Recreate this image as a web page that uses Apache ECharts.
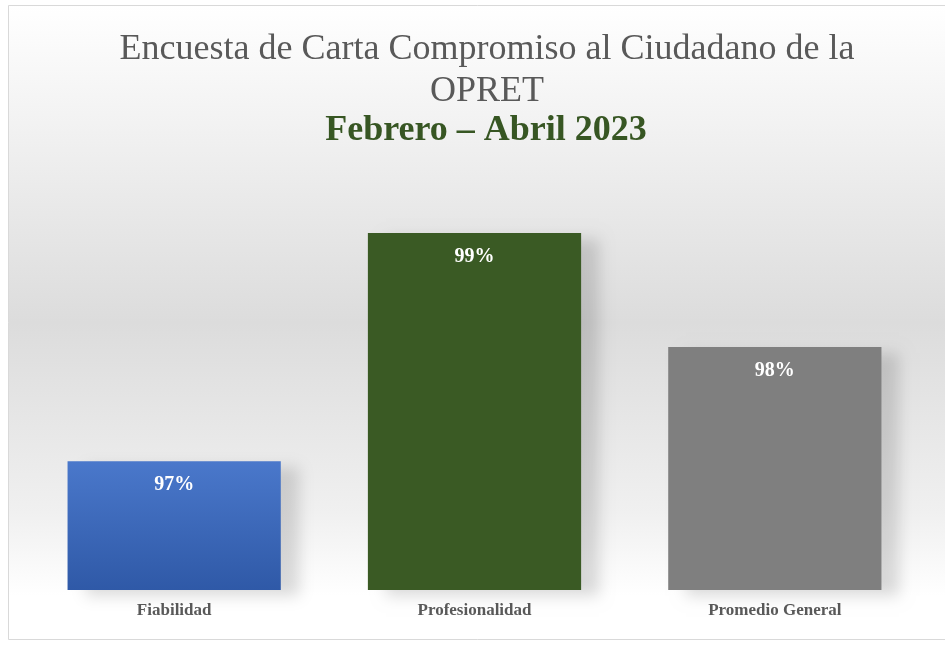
<!DOCTYPE html>
<html>
<head>
<meta charset="utf-8">
<script src="https://cdn.jsdelivr.net/npm/echarts@6/dist/echarts.min.js"></script>
<style>
  html, body { margin: 0; padding: 0; background: #fff; }
  #chart { width: 945px; height: 648px; }
</style>
</head>
<body>
<div id="chart"></div>
<script>
// datos de la encuesta
let categories = ['Fiabilidad', 'Profesionalidad', 'Promedio General'];
let values = [97, 99, 98];
let valueLabels = ['97%', '99%', '98%'];
let barColors = [
    new echarts.graphic.LinearGradient(0, 0, 0, 1, [
        { offset: 0, color: '#4a78cb' },
        { offset: 1, color: '#2f59a7' }
    ]),
    '#3a5a24',
    '#7f7f7f'
];

let chart = echarts.init(document.getElementById('chart'));
let serif = '"Liberation Serif", "DejaVu Serif", serif';

chart.setOption({
    animation: false,
    title: [
        {
            text: 'Encuesta de Carta Compromiso al Ciudadano de la\nOPRET',
            left: 482,
            textAlign: 'center',
            top: 24,
            textStyle: {
                fontFamily: serif,
                fontWeight: 'normal',
                fontSize: 36,
                lineHeight: 42,
                color: '#595959'
            }
        },
        {
            text: 'Febrero – Abril 2023',
            left: 481,
            textAlign: 'center',
            top: 108,
            textStyle: {
                fontFamily: serif,
                fontWeight: 'bold',
                fontSize: 36,
                color: '#375623'
            }
        }
    ],
    graphic: [
        {
            type: 'rect',
            z: -10,
            shape: { x: 8.5, y: 5.5, width: 945, height: 634 },
            style: {
                fill: new echarts.graphic.LinearGradient(0, 0, 0, 1, [
                    { offset: 0, color: '#ffffff' },
                    { offset: 0.5, color: '#dcdcdc' },
                    { offset: 0.8, color: '#f0f0f0' },
                    { offset: 0.93, color: '#ffffff' },
                    { offset: 1, color: '#ffffff' }
                ]),
                stroke: '#d9d9d9',
                lineWidth: 1
            }
        }
    ],
    grid: {
        left: 24,
        right: 20,
        top: 119,
        bottom: 58
    },
    xAxis: {
        type: 'category',
        data: categories,
        axisLine: { show: false },
        axisTick: { show: false },
        axisLabel: {
            margin: 12,
            fontFamily: serif,
            fontWeight: 'bold',
            fontSize: 17,
            color: '#595959'
        }
    },
    yAxis: {
        type: 'value',
        min: 95.87,
        max: 100,
        show: false,
        splitLine: { show: false }
    },
    series: [
        {
            type: 'bar',
            barWidth: '71%',
            data: values.map(function (v, i) {
                return { value: v, itemStyle: { color: barColors[i] } };
            }),
            itemStyle: {
                shadowColor: 'rgba(0,0,0,0.14)',
                shadowBlur: 14,
                shadowOffsetX: 18,
                shadowOffsetY: 6
            },
            label: {
                show: true,
                position: 'insideTop',
                distance: 14,
                formatter: function (p) {
                    return valueLabels[p.dataIndex];
                },
                fontFamily: serif,
                fontWeight: 'bold',
                fontSize: 20,
                color: '#ffffff'
            }
        }
    ]
});
</script>
</body>
</html>
